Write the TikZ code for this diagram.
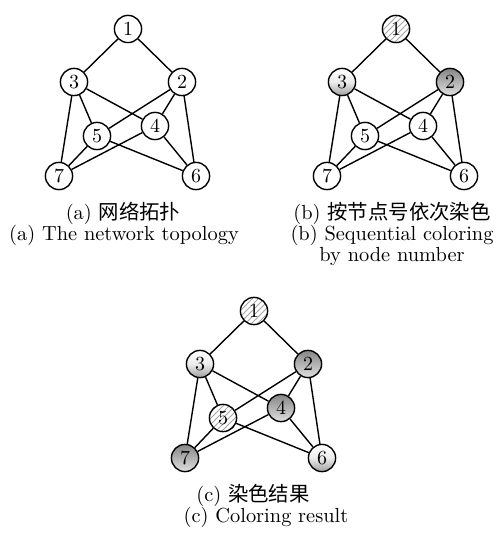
\documentclass[tikz,border=0pt]{standalone}
\usepackage{fontspec}
\newfontfamily\cjk{Noto Sans CJK SC}
\usetikzlibrary{patterns}

\tikzset{
  vtx/.style={circle, draw, line width=0.7pt, minimum size=13.6pt, inner sep=0pt,
              font=\fontsize{10}{11}\selectfont},
  plain/.style={vtx, fill=white},
  hatched/.style={vtx, pattern=north east lines, pattern color=gray!70},
  light/.style={vtx, top color=white, bottom color=gray!75, middle color=gray!15},
  dark/.style={vtx, top color=gray!95, bottom color=gray!25},
  edge/.style={line width=0.7pt},
  captext/.style={anchor=base, inner sep=0pt, font=\fontsize{10.2}{11}\selectfont},
}

% one copy of the seven-node network; #1..#7 are the styles of nodes 1..7
\newcommand\netgraph[7]{%
  \node[#1] (n1) at (128,29)  {1};
  \node[#3] (n3) at (74,82)   {3};
  \node[#2] (n2) at (182,82)  {2};
  \node[#5] (n5) at (97,136)  {5};
  \node[#4] (n4) at (155,126) {4};
  \node[#7] (n7) at (59,176)  {7};
  \node[#6] (n6) at (196,176) {6};
  \draw[edge] (n1) -- (n3) (n1) -- (n2)
              (n3) -- (n5) (n3) -- (n4) (n3) -- (n7)
              (n2) -- (n5) (n2) -- (n4) (n2) -- (n6)
              (n5) -- (n7) (n5) -- (n6)
              (n4) -- (n7) (n4) -- (n6);
}

\begin{document}
\begin{tikzpicture}[x=0.5pt, y=-0.5pt]
  \useasboundingbox (0,0) rectangle (501,533);

  % (a) topology
  \begin{scope}[name prefix=a-]
    \netgraph{plain}{plain}{plain}{plain}{plain}{plain}{plain}
  \end{scope}
  \node[captext] (ca1) at (123,220) {(a) {\cjk 网络拓扑}};
  \node[captext] (ca2) at (124,241) {(a) The network topology};

  % (b) sequential coloring
  \begin{scope}[shift={(268,0)}, name prefix=b-]
    \netgraph{hatched}{dark}{light}{plain}{plain}{plain}{plain}
  \end{scope}
  \node[captext] (cb1) at (392,220) {(b) {\cjk 按节点号依次染色}};
  \node[captext] (cb2) at (392,241) {(b) Sequential coloring};
  \node[captext] (cb3) at (392,262) {by node number};

  % (c) coloring result
  \begin{scope}[shift={(126,282)}, name prefix=c-]
    \netgraph{hatched}{dark}{light}{dark}{hatched}{light}{dark}
  \end{scope}
  \node[captext] (cc1) at (253,501) {(c) {\cjk 染色结果}};
  \node[captext] (cc2) at (266,522) {(c) Coloring result};
\end{tikzpicture}
\end{document}
